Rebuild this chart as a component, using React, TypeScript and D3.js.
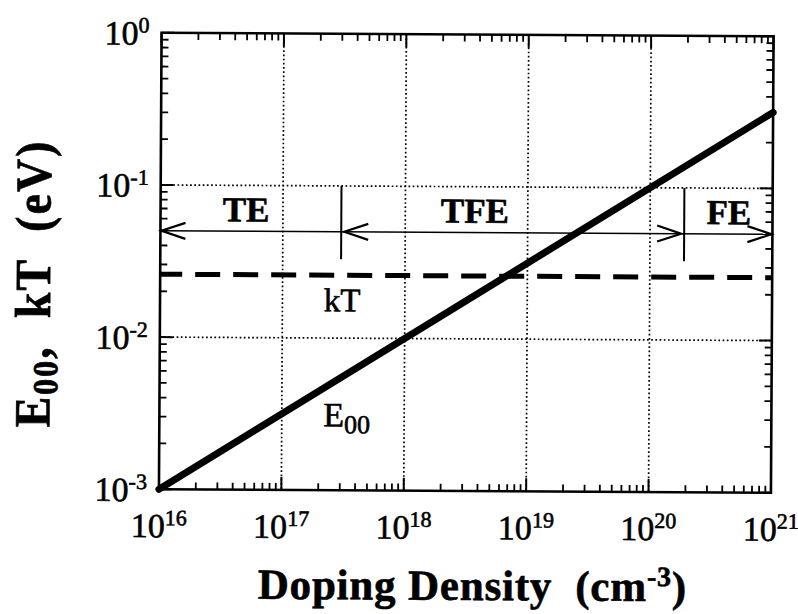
import React from "react";
import * as d3 from "d3";

// ---- data ----
const dopingDecades = [1e16, 1e17, 1e18, 1e19, 1e20, 1e21];
const dopingExponents = ["16", "17", "18", "19", "20", "21"];
const energyDecades = [1e-3, 1e-2, 1e-1, 1];
const energyExponents = ["-3", "-2", "-1", "0"];

// E00 (eV) vs doping density (cm^-3)
const e00Doping = [1e16, 1e21];
const e00Energy = [0.001, 0.316];

// kT at room temperature (eV)
const kTDoping = [1e16, 1e21];
const kTEnergy = [0.0259, 0.0259];

// regime boundaries along the arrow line
const regimeBounds = [1e16, 3e17, 1.9e20, 1e21];
const regimeNames = ["TE", "TFE", "FE"];
const regimeLabelDoping = [5e16, 3.7e18, 4.4e20];
const arrowLevel = 0.05;
const dividerTop = 0.1;
const dividerBottom = 0.033;
const regimeLabelLevel = 0.058;

const W = 798;
const H = 614;
const M = { left: 160, right: 772, top: 34.5, bottom: 491 };

const FONT = "Liberation Serif, DejaVu Serif, Times New Roman, serif";

export default function App() {
  const x = d3.scaleLog().domain([1e16, 1e21]).range([M.left, M.right]);
  const y = d3.scaleLog().domain([1e-3, 1]).range([M.bottom, M.top]);

  const line = d3
    .line<[number, number]>()
    .x((d) => x(d[0]))
    .y((d) => y(d[1]));

  const e00Pts = e00Doping.map((n, i) => [n, e00Energy[i]] as [number, number]);
  const kTPts = kTDoping.map((n, i) => [n, kTEnergy[i]] as [number, number]);

  const xMinor: number[] = [];
  for (let i = 0; i < dopingDecades.length - 1; i++)
    for (let k = 2; k <= 9; k++) xMinor.push(dopingDecades[i] * k);
  const yMinor: number[] = [];
  for (let i = 0; i < energyDecades.length - 1; i++)
    for (let k = 2; k <= 9; k++) yMinor.push(energyDecades[i] * k);

  const minorLen = 7;
  const majorLen = 13;

  const ay = y(arrowLevel);
  const headL = 24;
  const headW = 8;

  const arrowHead = (tipX: number, dir: number, key: string) => (
    <path
      key={key}
      d={`M${tipX + dir * -headL},${ay - headW} L${tipX},${ay} L${tipX + dir * -headL},${ay + headW}`}
      fill="none"
      stroke="#000"
      strokeWidth={2.2}
    />
  );

  const cx = (M.left + M.right) / 2;
  const cy = H / 2;
  const tf = { fontFamily: FONT };
  const heavy = { stroke: "#000", strokeWidth: 0.6 };

  return (
    <svg width={W} height={H} style={{ position: "absolute", left: 0, top: 0, background: "#fff" }}>
      <rect width={W} height={H} fill="#fff" />
      <g transform={`rotate(0.33, ${cx}, ${cy})`}>
        {/* grid */}
        {dopingDecades.slice(1, -1).map((d, i) => (
          <line
            key={"gx" + i}
            x1={x(d)}
            x2={x(d)}
            y1={M.top}
            y2={M.bottom}
            stroke="#000"
            strokeWidth={1.7}
            strokeDasharray="1.7,2.5"
          />
        ))}
        {energyDecades.slice(1, -1).map((d, i) => (
          <line
            key={"gy" + i}
            x1={M.left}
            x2={M.right}
            y1={y(d)}
            y2={y(d)}
            stroke="#000"
            strokeWidth={1.7}
            strokeDasharray="1.7,2.5"
          />
        ))}

        {/* ticks */}
        {xMinor.map((d, i) => (
          <g key={"xm" + i} stroke="#000" strokeWidth={1.8}>
            <line x1={x(d)} x2={x(d)} y1={M.bottom} y2={M.bottom - minorLen} />
            <line x1={x(d)} x2={x(d)} y1={M.top} y2={M.top + minorLen} />
          </g>
        ))}
        {dopingDecades.map((d, i) => (
          <g key={"xM" + i} stroke="#000" strokeWidth={2}>
            <line x1={x(d)} x2={x(d)} y1={M.bottom} y2={M.bottom - majorLen} />
            <line x1={x(d)} x2={x(d)} y1={M.top} y2={M.top + majorLen} />
          </g>
        ))}
        {yMinor.map((d, i) => (
          <g key={"ym" + i} stroke="#000" strokeWidth={1.8}>
            <line x1={M.left} x2={M.left + minorLen} y1={y(d)} y2={y(d)} />
            <line x1={M.right} x2={M.right - minorLen} y1={y(d)} y2={y(d)} />
          </g>
        ))}
        {energyDecades.map((d, i) => (
          <g key={"yM" + i} stroke="#000" strokeWidth={2}>
            <line x1={M.left} x2={M.left + majorLen} y1={y(d)} y2={y(d)} />
            <line x1={M.right} x2={M.right - majorLen} y1={y(d)} y2={y(d)} />
          </g>
        ))}

        {/* frame */}
        <rect
          x={M.left}
          y={M.top}
          width={M.right - M.left}
          height={M.bottom - M.top}
          fill="none"
          stroke="#000"
          strokeWidth={2.6}
        />

        {/* kT dashed */}
        <path
          d={line(kTPts) || ""}
          fill="none"
          stroke="#000"
          strokeWidth={5}
          strokeDasharray="25,13"
          strokeDashoffset={3}
        />

        {/* E00 */}
        <path d={line(e00Pts) || ""} fill="none" stroke="#000" strokeWidth={7} strokeLinecap="round" />

        {/* regime arrows */}
        <line x1={x(regimeBounds[0])} x2={x(regimeBounds[3])} y1={ay} y2={ay} stroke="#000" strokeWidth={1.5} />
        {[regimeBounds[1], regimeBounds[2]].map((b, i) => (
          <line
            key={"div" + i}
            x1={x(b)}
            x2={x(b)}
            y1={y(dividerTop)}
            y2={y(dividerBottom)}
            stroke="#000"
            strokeWidth={2}
          />
        ))}
        {arrowHead(x(regimeBounds[0]) + 1, -1, "a0")}
        {arrowHead(x(regimeBounds[1]) + 3, -1, "a1")}
        {arrowHead(x(regimeBounds[2]) - 3, 1, "a2")}
        {arrowHead(x(regimeBounds[3]) - 1, 1, "a3")}
        {regimeNames.map((nm, i) => (
          <text
            key={nm}
            x={x(regimeLabelDoping[i])}
            y={y(regimeLabelLevel)}
            textAnchor="middle"
            fontSize={35}
            fontWeight="bold"
            style={tf}
            {...heavy}
          >
            {nm}
          </text>
        ))}

        {/* curve labels */}
        <text x={342} y={312} textAnchor="middle" fontSize={33} style={tf} {...heavy}>
          kT
        </text>
        <text x={324} y={427} fontSize={34} style={tf} {...heavy}>
          E<tspan fontSize={26} dy={7}>00</tspan>
        </text>

        {/* x tick labels */}
        {dopingDecades.map((d, i) => (
          <text key={"xl" + i} x={x(d)} y={539} textAnchor="middle" fontSize={34} style={tf} {...heavy}>
            10<tspan fontSize={22} dy={-12}>{dopingExponents[i]}</tspan>
          </text>
        ))}
        {/* y tick labels */}
        {energyDecades.map((d, i) => (
          <text key={"yl" + i} x={148} y={y(d) + 12} textAnchor="end" fontSize={34} style={tf} {...heavy}>
            10<tspan fontSize={22} dy={-12}>{energyExponents[i]}</tspan>
          </text>
        ))}

        {/* axis titles */}
        <text
          x={474}
          y={600}
          textAnchor="middle"
          fontSize={43}
          fontWeight="bold"
          letterSpacing={0.8}
          style={{ ...tf, whiteSpace: "pre" }}
          {...heavy}
        >
          {"Doping Density  (cm"}
          <tspan fontSize={28} dy={-15}>-3</tspan>
          <tspan dy={15}>)</tspan>
        </text>
        <text
          transform={`translate(50, 286) scale(1.1, 1) rotate(-90)`}
          textAnchor="middle"
          fontSize={46}
          fontWeight="bold"
          letterSpacing={2}
          style={{ ...tf, whiteSpace: "pre" }}
          {...heavy}
        >
          E<tspan fontSize={32} dy={7}>00</tspan>
          <tspan dy={-7}>{",  kT  (eV)"}</tspan>
        </text>
      </g>
    </svg>
  );
}
